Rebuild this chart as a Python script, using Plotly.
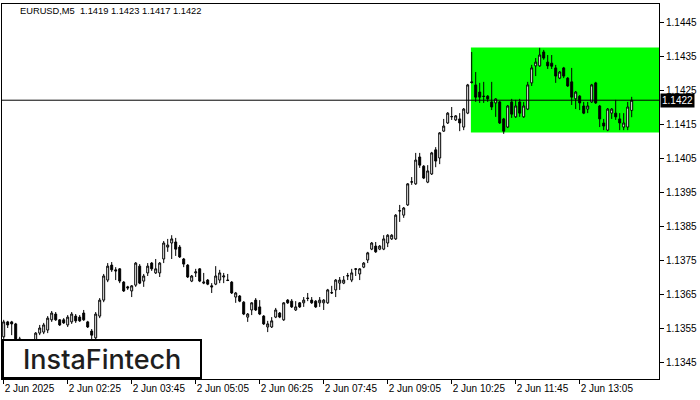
import plotly.graph_objects as go

# ---- data (EURUSD M5, 2 Jun 2025) ----
open_ = [
    1.13524, 1.13568, 1.13568, 1.13562, 1.13518, 1.13497, 1.13479, 1.13494, 1.13509, 1.13535,
    1.13538, 1.13544, 1.13574, 1.13591, 1.13574, 1.13574, 1.13559, 1.13568, 1.13585, 1.13582,
    1.13594, 1.13568, 1.13541, 1.13521, 1.13585, 1.13632, 1.13691, 1.13735, 1.13721, 1.13724,
    1.13685, 1.13671, 1.13659, 1.13676, 1.13732, 1.13688, 1.13712, 1.13741, 1.13712, 1.13712,
    1.13753, 1.13788, 1.13800, 1.13803, 1.13788, 1.13753, 1.13735, 1.13688, 1.13712, 1.13724,
    1.13682, 1.13691, 1.13674, 1.13679, 1.13691, 1.13700, 1.13691, 1.13685, 1.13641, 1.13644,
    1.13626, 1.13582, 1.13603, 1.13632, 1.13612, 1.13585, 1.13553, 1.13553, 1.13582, 1.13594,
    1.13574, 1.13632, 1.13629, 1.13603, 1.13624, 1.13624, 1.13638, 1.13632, 1.13629, 1.13624,
    1.13624, 1.13624, 1.13653, 1.13662, 1.13682, 1.13682, 1.13703, 1.13691, 1.13724, 1.13709,
    1.13729, 1.13750, 1.13782, 1.13791, 1.13782, 1.13782, 1.13800, 1.13812, 1.13812, 1.13894,
    1.13882, 1.13912, 1.13979, 1.13974, 1.14053, 1.14026, 1.13979, 1.14003, 1.14074, 1.14050,
    1.14129, 1.14153, 1.14171, 1.14162, 1.14165, 1.14141, 1.14182, 1.14274, 1.14265, 1.14244,
    1.14232, 1.14232, 1.14215, 1.14212, 1.14215, 1.14165, 1.14141, 1.14215, 1.14171, 1.14215,
    1.14171, 1.14194, 1.14271, 1.14321, 1.14321, 1.14362, 1.14332, 1.14329, 1.14315, 1.14285,
    1.14315, 1.14285, 1.14274, 1.14224, 1.14232, 1.14203, 1.14194, 1.14215, 1.14271, 1.14203,
    1.14153, 1.14132, 1.14182, 1.14182, 1.14165, 1.14141, 1.14141, 1.14190,
]
high = [
    1.13574, 1.13571, 1.13571, 1.13565, 1.13524, 1.13503, 1.13500, 1.13512, 1.13538, 1.13559,
    1.13565, 1.13585, 1.13600, 1.13597, 1.13576, 1.13579, 1.13588, 1.13597, 1.13591, 1.13588,
    1.13603, 1.13571, 1.13547, 1.13597, 1.13638, 1.13709, 1.13741, 1.13744, 1.13729, 1.13726,
    1.13688, 1.13674, 1.13676, 1.13744, 1.13738, 1.13709, 1.13741, 1.13744, 1.13753, 1.13744,
    1.13806, 1.13812, 1.13823, 1.13815, 1.13794, 1.13756, 1.13738, 1.13706, 1.13724, 1.13726,
    1.13712, 1.13694, 1.13682, 1.13732, 1.13721, 1.13712, 1.13709, 1.13688, 1.13656, 1.13647,
    1.13629, 1.13594, 1.13626, 1.13638, 1.13632, 1.13588, 1.13571, 1.13582, 1.13609, 1.13597,
    1.13626, 1.13635, 1.13635, 1.13629, 1.13626, 1.13641, 1.13653, 1.13641, 1.13632, 1.13641,
    1.13635, 1.13665, 1.13674, 1.13694, 1.13700, 1.13703, 1.13712, 1.13724, 1.13726, 1.13726,
    1.13744, 1.13774, 1.13803, 1.13803, 1.13794, 1.13823, 1.13826, 1.13826, 1.13885, 1.13912,
    1.13906, 1.13976, 1.13994, 1.14065, 1.14065, 1.14029, 1.14029, 1.14068, 1.14082, 1.14126,
    1.14165, 1.14185, 1.14200, 1.14176, 1.14182, 1.14197, 1.14268, 1.14362, 1.14303, 1.14271,
    1.14274, 1.14235, 1.14274, 1.14226, 1.14218, 1.14168, 1.14206, 1.14224, 1.14221, 1.14224,
    1.14215, 1.14274, 1.14324, 1.14344, 1.14374, 1.14368, 1.14353, 1.14353, 1.14324, 1.14306,
    1.14318, 1.14288, 1.14315, 1.14247, 1.14235, 1.14215, 1.14215, 1.14268, 1.14274, 1.14206,
    1.14165, 1.14197, 1.14197, 1.14221, 1.14182, 1.14182, 1.14215, 1.14230,
]
low = [
    1.13518, 1.13550, 1.13529, 1.13512, 1.13485, 1.13468, 1.13471, 1.13488, 1.13503, 1.13529,
    1.13532, 1.13535, 1.13568, 1.13571, 1.13556, 1.13562, 1.13553, 1.13562, 1.13565, 1.13568,
    1.13571, 1.13550, 1.13515, 1.13509, 1.13579, 1.13626, 1.13685, 1.13715, 1.13691, 1.13682,
    1.13656, 1.13662, 1.13641, 1.13671, 1.13679, 1.13671, 1.13703, 1.13718, 1.13709, 1.13700,
    1.13741, 1.13774, 1.13753, 1.13762, 1.13756, 1.13729, 1.13697, 1.13685, 1.13700, 1.13685,
    1.13679, 1.13676, 1.13653, 1.13676, 1.13682, 1.13682, 1.13688, 1.13650, 1.13624, 1.13626,
    1.13588, 1.13568, 1.13588, 1.13600, 1.13588, 1.13559, 1.13538, 1.13550, 1.13579, 1.13579,
    1.13571, 1.13621, 1.13609, 1.13600, 1.13609, 1.13612, 1.13629, 1.13621, 1.13609, 1.13612,
    1.13603, 1.13621, 1.13650, 1.13641, 1.13662, 1.13679, 1.13691, 1.13685, 1.13703, 1.13691,
    1.13726, 1.13741, 1.13779, 1.13771, 1.13779, 1.13779, 1.13788, 1.13809, 1.13809, 1.13862,
    1.13874, 1.13909, 1.13971, 1.13971, 1.14021, 1.13988, 1.13976, 1.14000, 1.14023, 1.14032,
    1.14127, 1.14150, 1.14162, 1.14159, 1.14129, 1.14132, 1.14179, 1.14269, 1.14215, 1.14212,
    1.14212, 1.14215, 1.14191, 1.14171, 1.14150, 1.14121, 1.14138, 1.14168, 1.14168, 1.14171,
    1.14168, 1.14191, 1.14262, 1.14291, 1.14318, 1.14339, 1.14312, 1.14312, 1.14271, 1.14282,
    1.14285, 1.14259, 1.14206, 1.14194, 1.14191, 1.14179, 1.14182, 1.14212, 1.14209, 1.14141,
    1.14132, 1.14129, 1.14165, 1.14162, 1.14132, 1.14132, 1.14132, 1.14170,
]
close = [
    1.13568, 1.13559, 1.13562, 1.13518, 1.13497, 1.13479, 1.13494, 1.13509, 1.13535, 1.13550,
    1.13559, 1.13579, 1.13594, 1.13574, 1.13559, 1.13565, 1.13582, 1.13591, 1.13571, 1.13571,
    1.13574, 1.13553, 1.13529, 1.13591, 1.13632, 1.13703, 1.13732, 1.13721, 1.13718, 1.13688,
    1.13659, 1.13668, 1.13674, 1.13741, 1.13682, 1.13703, 1.13732, 1.13724, 1.13724, 1.13741,
    1.13800, 1.13794, 1.13812, 1.13782, 1.13759, 1.13738, 1.13700, 1.13703, 1.13715, 1.13688,
    1.13685, 1.13679, 1.13671, 1.13703, 1.13712, 1.13703, 1.13690, 1.13653, 1.13653, 1.13629,
    1.13591, 1.13591, 1.13624, 1.13603, 1.13591, 1.13562, 1.13562, 1.13571, 1.13603, 1.13582,
    1.13624, 1.13624, 1.13612, 1.13612, 1.13612, 1.13632, 1.13637, 1.13624, 1.13612, 1.13632,
    1.13632, 1.13662, 1.13654, 1.13691, 1.13691, 1.13691, 1.13704, 1.13712, 1.13723, 1.13724,
    1.13741, 1.13771, 1.13800, 1.13774, 1.13791, 1.13812, 1.13823, 1.13823, 1.13882, 1.13895,
    1.13903, 1.13974, 1.13980, 1.14044, 1.14029, 1.13991, 1.14012, 1.14065, 1.14041, 1.14124,
    1.14144, 1.14182, 1.14172, 1.14174, 1.14153, 1.14194, 1.14265, 1.14272, 1.14229, 1.14229,
    1.14231, 1.14224, 1.14200, 1.14224, 1.14153, 1.14129, 1.14203, 1.14179, 1.14203, 1.14182,
    1.14203, 1.14265, 1.14315, 1.14332, 1.14353, 1.14344, 1.14321, 1.14320, 1.14291, 1.14303,
    1.14291, 1.14262, 1.14229, 1.14244, 1.14212, 1.14182, 1.14203, 1.14265, 1.14212, 1.14165,
    1.14144, 1.14194, 1.14194, 1.14171, 1.14153, 1.14153, 1.14200, 1.14220,
]
bars = list(range(len(close)))

tick_bars = [0, 16, 32, 48, 64, 80, 96, 112, 128, 144]
tick_labels = ["2 Jun 2025", "2 Jun 02:25", "2 Jun 03:45", "2 Jun 05:05", "2 Jun 06:25",
               "2 Jun 07:45", "2 Jun 09:05", "2 Jun 10:25", "2 Jun 11:45", "2 Jun 13:05"]
price_ticks = [1.1345, 1.1355, 1.1365, 1.1375, 1.1385, 1.1395, 1.1405, 1.1415, 1.1425, 1.1435, 1.1445]
price_labels = ["%.4f" % v for v in price_ticks]

current_price = 1.1422
zone_low, zone_high = 1.14125, 1.14375
zone_start_bar = 116.8
title_text = "EURUSD,M5\u00a0\u00a01.1419 1.1423 1.1417 1.1422"

x_range = [-0.425, 163.825]
y_range = [1.13400, 1.14503]

FONT = "Liberation Sans"

fig = go.Figure()
fig.add_trace(go.Candlestick(
    x=bars, open=open_, high=high, low=low, close=close,
    increasing=dict(fillcolor="white", line=dict(color="black", width=1)),
    decreasing=dict(fillcolor="black", line=dict(color="black", width=1)),
    whiskerwidth=0, showlegend=False, hoverinfo="skip",
))

fig.update_layout(
    width=700, height=400,
    margin=dict(l=2, r=41, t=4, b=21, autoexpand=False),
    paper_bgcolor="white", plot_bgcolor="white",
    font=dict(family=FONT, size=10, color="black"),
    showlegend=False,
    xaxis=dict(
        range=x_range, rangeslider=dict(visible=False), automargin=False,
        tickmode="array", tickvals=tick_bars, ticktext=tick_labels,
        ticks="outside", ticklen=4, tickcolor="black", tickwidth=1,
        ticklabelposition="outside right",
        showgrid=False, zeroline=False,
        showline=True, linecolor="black", linewidth=1, mirror=True,
        tickfont=dict(family=FONT, size=10, color="black"),
        fixedrange=True,
    ),
    yaxis=dict(
        range=y_range, side="right", automargin=False,
        tickmode="array", tickvals=price_ticks, ticktext=price_labels,
        ticks="outside", ticklen=4, tickcolor="black", tickwidth=1,
        showgrid=False, zeroline=False,
        showline=True, linecolor="black", linewidth=1, mirror=True,
        tickfont=dict(family=FONT, size=10, color="black"),
        fixedrange=True,
    ),
    shapes=[
        dict(type="rect", xref="x", yref="y", x0=zone_start_bar, x1=x_range[1],
             y0=zone_low, y1=zone_high, fillcolor="#00ff00", line=dict(width=0),
             layer="below"),
        dict(type="line", xref="paper", yref="y", x0=0, x1=1,
             y0=current_price, y1=current_price,
             line=dict(color="black", width=1), layer="above"),
        dict(type="rect", xref="paper", yref="paper", x0=0.0015, x1=0.3029,
             y0=0.0027, y1=0.104, fillcolor="white",
             line=dict(color="black", width=2), layer="above"),
    ],
    annotations=[
        dict(text=title_text, xref="paper", yref="paper", x=0.0244, y=0.981,
             xanchor="left", yanchor="middle", showarrow=False,
             font=dict(family=FONT, size=9.3, color="black")),
        dict(text="%.4f" % current_price, xref="paper", yref="y", x=1, y=current_price,
             xanchor="left", yanchor="middle", xshift=1, showarrow=False,
             bgcolor="black", borderpad=1,
             font=dict(family=FONT, size=10, color="white")),
        dict(text="InstaFintech", xref="paper", yref="paper", x=0.152, y=0.053,
             xanchor="center", yanchor="middle", showarrow=False,
             font=dict(family="Inter", size=27, color="#1e1e1e", weight=500)),
    ],
)

fig.write_html("out.html", config={"displayModeBar": False},
               post_script="document.body.style.margin='0';document.body.style.padding='0';")
